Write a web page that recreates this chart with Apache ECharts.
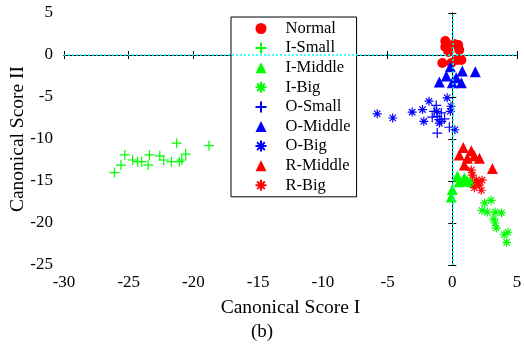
<!DOCTYPE html>
<html>
<head>
<meta charset="utf-8">
<script src="https://cdn.jsdelivr.net/npm/echarts@6/dist/echarts.min.js"></script>
<style>
  html, body { margin: 0; padding: 0; background: #fff; }
  #chart { width: 524px; height: 344px; }
</style>
</head>
<body>
<div id="chart"></div>
<script>
// 各类别的典型得分 [Canonical Score I, Canonical Score II]
const normal = [[-0.54, 1.67], [-0.54, 0.95], [0.15, 1.3], [0.46, 1.19], [0.54, 0.6], [0.39, -0.6],
  [-0.77, -0.95], [-0.3, 0.36], [0.7, -0.6], [-0.08, -0.95]]
const iSmall = [[-26.1, -14.0], [-25.6, -13.1], [-25.3, -11.9], [-24.7, -12.5], [-24.3, -12.7], [-24.0, -12.7],
  [-23.4, -11.9], [-23.5, -13.1], [-22.6, -12.0], [-22.3, -12.5], [-21.7, -12.7], [-21.1, -12.7],
  [-20.9, -12.5], [-20.6, -11.8], [-21.3, -10.5], [-18.8, -10.8]]
const iMiddle = [[0.39, -14.4], [0.93, -14.6], [0, -16.0], [-0.08, -16.9], [1.16, -15.0], [0.54, -15.1], [1.47, -15.1]]
const iBig = [[3.0, -17.3], [2.5, -17.6], [2.3, -18.5], [2.7, -18.7], [3.3, -18.7], [3.8, -18.8],
  [3.2, -19.5], [3.3, -20.0], [3.4, -20.6], [4.0, -21.4], [4.3, -21.1], [4.2, -22.3]]
const oSmall = [[-1.4, -6.7], [-1.16, -7.3], [-0.85, -6.9], [-1.0, -7.7], [-0.6, -7.6], [-1.16, -9.3],
  [-0.23, -8.6], [-1.55, -7.4], [-1.24, -6.0], [-0.85, -7.9]]
const oMiddle = [[-1.0, -3.2], [-0.15, -1.4], [0.3, -2.7], [0.77, -1.9], [1.78, -2.0], [0, -3.3], [0.7, -3.3], [-0.46, -2.5]]
const oBig = [[-5.8, -7.0], [-4.6, -7.5], [-3.1, -6.8], [-2.3, -6.5], [-1.8, -5.5], [-2.2, -7.9],
  [-0.4, -5.1], [-0.1, -6.1], [-0.15, -6.7], [0.2, -8.9], [-1.0, -8.1], [-1.2, -6.7]]
const rMiddle = [[0.85, -11.0], [1.47, -11.4], [0.54, -11.9], [1.16, -12.3], [2.1, -12.3], [3.1, -13.5], [0.93, -13.1], [1.7, -12.0]]
const rBig = [[1.47, -13.7], [1.55, -14.3], [1.85, -14.9], [2.3, -14.9], [2.1, -15.5], [2.24, -16.1], [1.7, -15.8], [1.93, -15.2]]

const seriesNames = ['Normal', 'I-Small', 'I-Middle', 'I-Big', 'O-Small', 'O-Middle', 'O-Big', 'R-Middle', 'R-Big']
const seriesData = [normal, iSmall, iMiddle, iBig, oSmall, oMiddle, oBig, rMiddle, rBig]

const RED = '#ff0000'
const GREEN = '#00ff00'
const BLUE = '#0000ff'
const seriesColors = [RED, GREEN, GREEN, GREEN, BLUE, BLUE, BLUE, RED, RED]
const seriesMarks = ['circle', 'plus', 'triangle', 'star', 'plus', 'triangle', 'star', 'triangle', 'star']

const PLUS = 'path://M5,0L5,10M0,5L10,5'
const STAR = 'path://M5,0L5,10M0,5L10,5M1.5,1.5L8.5,8.5M8.5,1.5L1.5,8.5'
const FONT = 'Liberation Serif'

function makeSeries (name, data, color, mark) {
  const s = {
    name: name,
    type: 'scatter',
    data: data,
    symbolKeepAspect: true,
    animation: false
  }
  if (mark === 'circle') {
    s.symbol = 'circle'
    s.symbolSize = 10
    s.itemStyle = { color: color, opacity: 1 }
  } else if (mark === 'triangle') {
    s.symbol = 'triangle'
    s.symbolSize = 11
    s.itemStyle = { color: color, opacity: 1 }
  } else {
    s.symbol = mark === 'plus' ? PLUS : STAR
    s.symbolSize = mark === 'plus' ? 10 : 9
    s.itemStyle = { color: 'none', borderColor: color, borderWidth: 1.2, opacity: 1 }
  }
  return s
}

const series = seriesNames.map((n, i) => makeSeries(n, seriesData[i], seriesColors[i], seriesMarks[i]))
// 零线（青色虚线）
series[0].markLine = {
  silent: true,
  symbol: 'none',
  label: { show: false },
  lineStyle: { color: '#00ffff', type: [2, 2], width: 1.5 },
  data: [{ xAxis: 0 }, { yAxis: 0 }]
}

const axisCommon = {
  axisLine: { lineStyle: { color: '#000', width: 1 } },
  axisTick: { inside: true, length: 4, lineStyle: { color: '#000' } },
  splitLine: { show: false }
}

const option = {
  title: {
    text: '(b)',
    left: 'center',
    bottom: 2,
    padding: 0,
    textStyle: { fontFamily: FONT, fontSize: 19, fontWeight: 'normal', color: '#000' }
  },
  grid: { left: 64, top: 13, right: 7, bottom: 79, outerBoundsMode: 'none', containLabel: false },
  legend: {
    orient: 'vertical',
    left: 231,
    top: 17,
    padding: [3, 6, 3, 22],
    itemWidth: 11,
    itemHeight: 11,
    itemGap: 2.6,
    borderColor: '#000',
    borderWidth: 1,
    backgroundColor: '#fff',
    textStyle: { fontFamily: FONT, fontSize: 16.5, lineHeight: 14, color: '#000', padding: [0, 0, 0, 14] },
    data: seriesNames
  },
  xAxis: [
    Object.assign({
      type: 'value',
      min: -30,
      max: 5,
      interval: 5,
      name: 'Canonical Score I',
      nameLocation: 'middle',
      nameGap: 33,
      nameTextStyle: { fontFamily: FONT, fontSize: 19.5, color: '#000' },
      axisLabel: { fontFamily: FONT, fontSize: 17, color: '#000', margin: 9 }
    }, axisCommon),
    Object.assign({
      type: 'value',
      position: 'top',
      min: -30,
      max: 5,
      interval: 5,
      axisLabel: { show: false }
    }, axisCommon)
  ],
  yAxis: [
    Object.assign({
      type: 'value',
      min: -25,
      max: 5,
      interval: 5,
      name: 'Canonical Score II',
      nameLocation: 'middle',
      nameGap: 36,
      nameMoveOverlap: false,
      nameTextStyle: { fontFamily: FONT, fontSize: 19.5, color: '#000' },
      axisLabel: { fontFamily: FONT, fontSize: 17, color: '#000', margin: 11 }
    }, axisCommon),
    Object.assign({
      type: 'value',
      position: 'right',
      min: -25,
      max: 5,
      interval: 5,
      axisLabel: { show: false }
    }, axisCommon)
  ],
  series: series
}

const chart = echarts.init(document.getElementById('chart'))
chart.setOption(option)
</script>
</body>
</html>
